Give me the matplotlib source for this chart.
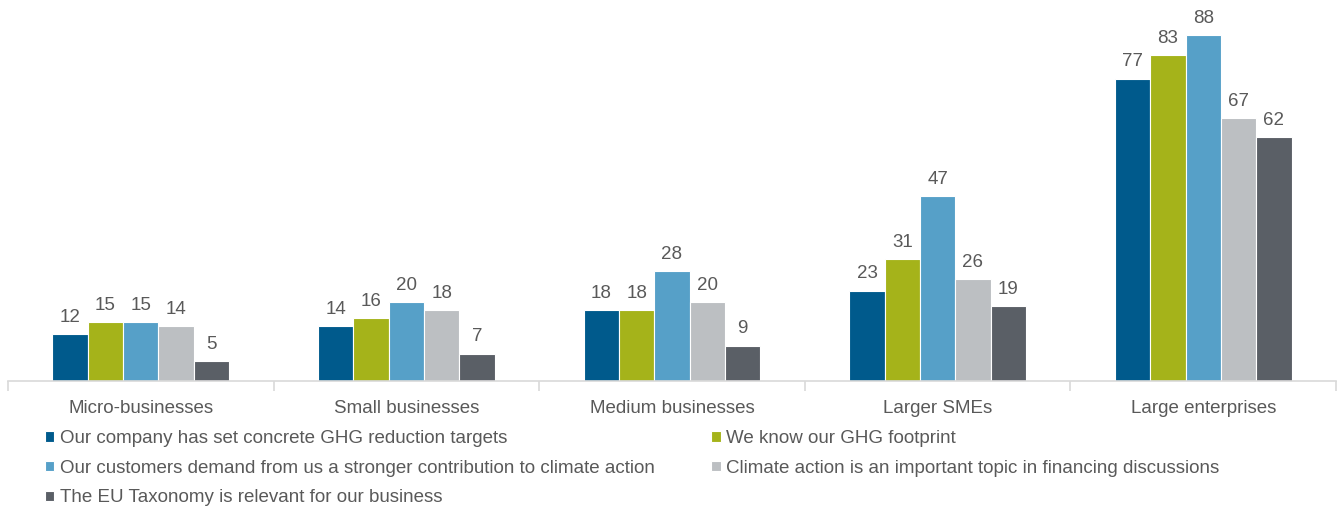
import matplotlib
matplotlib.use("Agg")
import matplotlib.pyplot as plt
import numpy as np

plt.rcParams['font.family'] = ['Liberation Sans', 'DejaVu Sans']

categories = ["Micro-businesses", "Small businesses", "Medium businesses",
              "Larger SMEs", "Large enterprises"]
series_names = [
    "Our company has set concrete GHG reduction targets",
    "We know our GHG footprint",
    "Our customers demand from us a stronger contribution to climate action",
    "Climate action is an important topic in financing discussions",
    "The EU Taxonomy is relevant for our business",
]
values = [
    [12, 14, 18, 23, 77],
    [15, 16, 18, 31, 83],
    [15, 20, 28, 47, 88],
    [14, 18, 20, 26, 67],
    [5, 7, 9, 19, 62],
]
colors = ["#005A8C", "#A5B31A", "#56A0C8", "#BCBFC2", "#5A5F66"]
text_color = "#595959"

fig = plt.figure(figsize=(13.39, 5.09), dpi=100)
ax = fig.add_axes([8 / 1339, 1 - 381 / 509, 1328 / 1339, 381 / 509])

x = np.arange(len(categories))
width = 0.133
handles = []
for i, (name, vals, col) in enumerate(zip(series_names, values, colors)):
    offs = (i - 2) * width
    bars = ax.bar(x + offs, vals, width, color=col, edgecolor="white",
                  linewidth=0.8, label=name)
    handles.append(bars)
    for xi, v in zip(x, vals):
        ax.annotate(str(v), (xi + offs, v), xytext=(0, 6),
                    textcoords="offset points", ha="center", va="bottom",
                    fontsize=13.5, color=text_color)

ax.set_xlim(-0.5, len(categories) - 0.5)
ax.set_ylim(0, 97)
ax.set_yticks([])
for s in ["top", "right", "left"]:
    ax.spines[s].set_visible(False)
ax.spines["bottom"].set_color("#D9D9D9")
ax.spines["bottom"].set_linewidth(1.2)
ax.set_xticks(x)
ax.set_xticklabels(categories, fontsize=13.5, color=text_color)
ax.tick_params(axis="x", which="major", length=0, pad=14)
ax.set_xticks(np.arange(-0.5, len(categories)), minor=True)
ax.tick_params(axis="x", which="minor", length=7, color="#D9D9D9", width=1.2)
ax.patch.set_alpha(0)

order = [0, 2, 4, 1, 3]
leg = fig.legend([handles[k] for k in order], [series_names[k] for k in order],
                 ncol=2, loc="upper left", bbox_to_anchor=(45 / 1339, 1 - 430 / 509),
                 frameon=False, fontsize=13.5, handlelength=0.5, handleheight=0.5,
                 handletextpad=0.3, columnspacing=3.0, labelspacing=0.68,
                 borderaxespad=0, borderpad=0)
for t in leg.get_texts():
    t.set_color(text_color)

fig.savefig("out.png", dpi=100)
